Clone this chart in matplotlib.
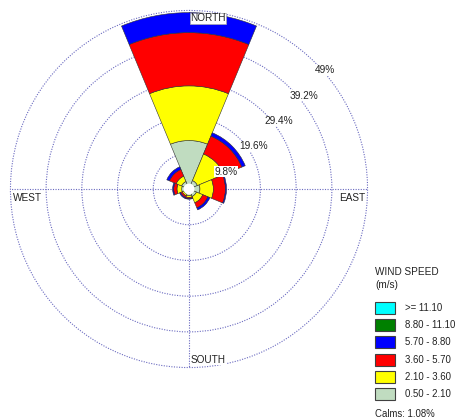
import matplotlib.pyplot as plt
import numpy as np
from matplotlib.patches import Rectangle

plt.rcParams['font.family'] = ['Liberation Sans', 'DejaVu Sans']

# 8 directions, clockwise from north
directions = ['N', 'NE', 'E', 'SE', 'S', 'SW', 'W', 'NW']
dir_deg = [0, 45, 90, 135, 180, 225, 270, 315]

# frequency (%) per speed class and direction
spd_050_210 = [13.3, 2.5, 3.0, 2.2, 1.8, 1.5, 2.0, 2.2]
spd_210_360 = [15.0, 7.9, 3.7, 1.9, 0.5, 0.5, 1.3, 1.6]
spd_360_570 = [14.6, 5.3, 3.3, 1.5, 0.3, 0.5, 0.9, 2.0]
spd_570_880 = [5.5, 1.0, 0.3, 0.6, 0.2, 0.3, 0.3, 0.8]
spd_880_1110 = [0, 0, 0, 0, 0, 0, 0, 0]
spd_1110_up = [0, 0, 0, 0, 0, 0, 0, 0]

band_labels = ['0.50 - 2.10', '2.10 - 3.60', '3.60 - 5.70',
               '5.70 - 8.80', '8.80 - 11.10', '>= 11.10']
band_colors = ['#c0dcc0', '#ffff00', '#ff0000', '#0000ff', '#008000', '#00ffff']
calms = 1.08
ring_values = [9.8, 19.6, 29.4, 39.2, 49]

fig = plt.figure(figsize=(4.57, 4.20), dpi=100)
W, H = 457, 420
cx, cy, R = 189, 189, 178.6
ax = fig.add_axes([(cx - R) / W, 1 - (cy + R) / H, 2 * R / W, 2 * R / H],
                  projection='polar')
ax.set_theta_zero_location('N')
ax.set_theta_direction(-1)
ax.set_axisbelow(True)

theta = np.deg2rad(dir_deg)
series = [spd_050_210, spd_210_360, spd_360_570, spd_570_880, spd_880_1110, spd_1110_up]
bottom = np.zeros(len(directions))
for vals, col in zip(series, band_colors):
    vals = np.array(vals, dtype=float)
    m = vals > 0
    if m.any():
        ax.bar(theta[m], vals[m], width=np.deg2rad(45), bottom=bottom[m],
               color=col, edgecolor='#303030', linewidth=0.4, align='center', zorder=2)
    bottom += vals

# calm circle
tt = np.linspace(0, 2 * np.pi, 100)
ax.fill(tt, np.full(100, 1.3), color='white', zorder=3)

ax.set_ylim(0, ring_values[-1])
ax.set_yticks(ring_values[:-1])
ax.set_yticklabels([])
ax.set_xticks(np.deg2rad([0, 90, 180, 270]))
ax.set_xticklabels([])
grid_style = dict(color='#6a6ac0', linestyle=(0, (1, 1.3)), linewidth=0.8)
ax.grid(True, **grid_style)
ax.spines['polar'].set_visible(False)
ax.plot(tt, np.full(100, ring_values[-1]), clip_on=False, zorder=0.5, **grid_style)

for rv in ring_values:
    lab = ('%g%%' % rv)
    ax.annotate(lab, xy=(np.pi / 4, rv), xytext=(0, -2), textcoords='offset points',
                ha='left', va='top', fontsize=7.3, color='#222222',
                bbox=dict(facecolor='white', edgecolor='none', pad=0.3), zorder=4)

lab_kw = dict(fontsize=7.2, color='#222222', textcoords='offset points', zorder=4)
ax.annotate('NORTH', xy=(0, 49), xytext=(1, -2), ha='left', va='top',
            bbox=dict(facecolor='white', edgecolor='#aaaaaa', linewidth=0.5, pad=0.3), **lab_kw)
ax.annotate('EAST', xy=(np.pi / 2, 49), xytext=(-2, -3), ha='right', va='top', **lab_kw)
ax.annotate('WEST', xy=(3 * np.pi / 2, 49), xytext=(2, -3), ha='left', va='top', **lab_kw)
ax.annotate('SOUTH', xy=(np.pi, 49), xytext=(1, 2), ha='left', va='bottom',
            bbox=dict(facecolor='white', edgecolor='none', pad=0.3), **lab_kw)

# legend in pixel coordinates
lax = fig.add_axes([0, 0, 1, 1])
lax.set_xlim(0, W)
lax.set_ylim(H, 0)
lax.axis('off')
lax.text(375, 272, 'WIND SPEED', fontsize=7.2, va='center', ha='left', color='#222222')
lax.text(375, 285, '(m/s)', fontsize=7.2, va='center', ha='left', color='#222222')
ys = [308, 325, 342, 360, 377, 394]
for y, lab, col in zip(ys, band_labels[::-1], band_colors[::-1]):
    lax.add_patch(Rectangle((375, y - 6), 20, 12, facecolor=col,
                            edgecolor='#404040', linewidth=0.8))
    lax.text(405, y, lab, fontsize=6.9, va='center', ha='left', color='#222222')
lax.text(375, 414, 'Calms: %.2f%%' % calms, fontsize=6.9, va='center', ha='left',
         color='#222222')

fig.savefig('out.png', dpi=100)
